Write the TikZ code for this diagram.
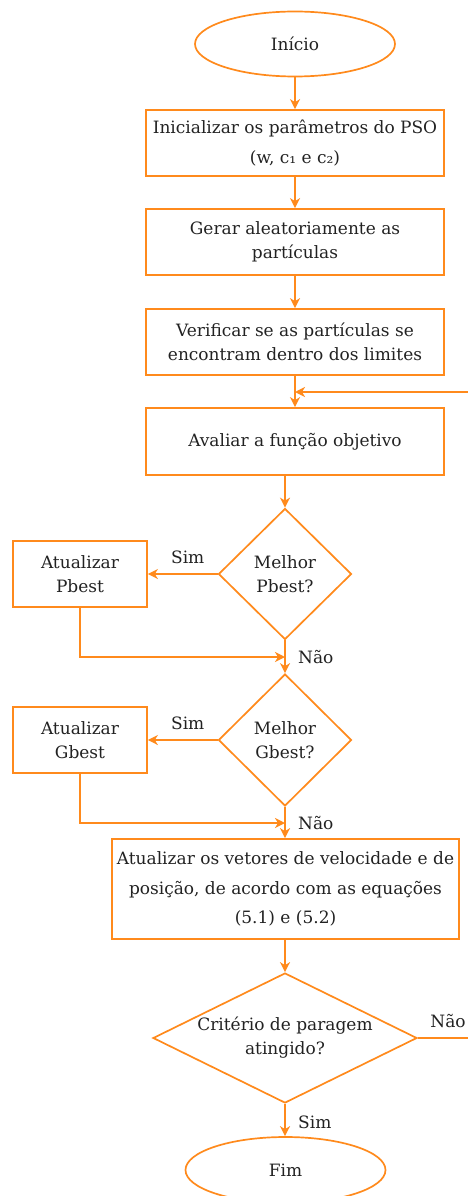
\documentclass[tikz,border=0pt]{standalone}
\usepackage{fontspec}
\setmainfont{DejaVu Serif}
\usetikzlibrary{shapes.geometric,arrows.meta}
\definecolor{flow}{HTML}{FF8A1C}
\definecolor{ink}{HTML}{222222}
\tikzset{
  base/.style={draw=flow, line width=1.7pt, text=ink, align=center, inner sep=0pt,
    font=\fontsize{17}{24}\selectfont},
  procbox/.style={base, rectangle, minimum width=298pt, minimum height=66pt},
  sidebox/.style={base, rectangle, minimum width=134pt, minimum height=66pt},
  terminal/.style={base, ellipse, minimum width=200pt, minimum height=65pt},
  decision/.style={base, diamond},
  qtext/.style={text=ink, align=center, inner sep=0pt, font=\fontsize{17}{24}\selectfont},
  link/.style={draw=flow, line width=1.7pt, -{Stealth[length=10pt,width=10pt,inset=3pt]}},
  tag/.style={text=ink, inner sep=0pt, font=\fontsize{17}{20}\selectfont}
}
\begin{document}
\begin{tikzpicture}[x=1pt,y=-1pt]
\useasboundingbox (0,0) rectangle (468,1196);
\clip (0,0) rectangle (468,1196);

% main column
\node[terminal] (start) at (295,44) {Início};
\node[procbox, font=\fontsize{17}{30}\selectfont] (init) at (295,143)
  {Inicializar os parâmetros do PSO\\(w, c₁ e c₂)};
\node[procbox] (gen) at (295,242) {Gerar aleatoriamente as\\partículas};
\node[procbox] (check) at (295,342) {Verificar se as partículas se\\encontram dentro dos limites};
\node[procbox, minimum height=67pt] (eval) at (295,441.5) {Avaliar a função objetivo};

% personal best test
\node[decision, minimum width=133pt, minimum height=131pt] (pb) at (285,574) {};
\node[qtext] (pbq) at (pb.center) {Melhor\\Pbest?};
\node[sidebox] (upb) at (80,574) {Atualizar\\Pbest};

% global best test
\node[decision, minimum width=133pt, minimum height=132pt] (gb) at (285,740) {};
\node[qtext] (gbq) at (gb.center) {Melhor\\Gbest?};
\node[sidebox] (ugb) at (80,740) {Atualizar\\Gbest};

% update and stop test
\node[base, rectangle, minimum width=347pt, minimum height=100pt,
  font=\fontsize{17}{29.5}\selectfont] (move) at (285.5,889)
  {Atualizar os vetores de velocidade e de\\posição, de acordo com as equações\\(5.1) e (5.2)};
\node[decision, minimum width=264pt, minimum height=130pt] (stop) at (285,1038) {};
\node[qtext] (stopq) at (stop.center) {Critério de paragem\\atingido?};
\node[terminal, minimum height=66pt] (end) at (285.5,1170) {Fim};

% junction points
\coordinate (j0) at (295,392);
\coordinate (j1) at (285,657);
\coordinate (j2) at (285,823);

% connectors
\draw[link] (start) -- (init);
\draw[link] (init) -- (gen);
\draw[link] (gen) -- (check);
\draw[link] (check) -- (eval);
\draw[link] (eval.south -| pb.north) -- (pb.north);
\draw[link] (pb.west) -- node[tag, above=9pt, xshift=5pt] {Sim} (upb.east);
\draw[link] (upb.south) |- (j1);
\draw[link] (pb.south) -- (gb.north);
\node[tag, anchor=west] (n1) at (298,657) {Não};
\draw[link] (gb.west) -- node[tag, above=9pt, xshift=5pt] {Sim} (ugb.east);
\draw[link] (ugb.south) |- (j2);
\draw[link] (gb.south) -- (move.north -| gb.south);
\node[tag, anchor=west] (n2) at (298,823) {Não};
\draw[link] (move.south -| stop.north) -- (stop.north);
\draw[link] (stop.east) -- ++(80,0) |- (j0);
\node[tag] (n3) at (448,1021) {Não};
\draw[link] (stop.south) -- (end.north -| stop.south);
\node[tag, anchor=west] (s3) at (298,1122) {Sim};
\end{tikzpicture}
\end{document}
